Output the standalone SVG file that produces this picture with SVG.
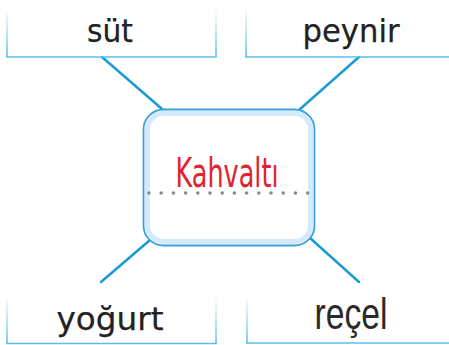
<svg xmlns="http://www.w3.org/2000/svg" width="449" height="345" viewBox="0 0 449 345">
<defs>
<linearGradient id="fade" x1="0" y1="0" x2="0" y2="1">
<stop offset="0" stop-color="#5bbfe9" stop-opacity="0"/>
<stop offset="1" stop-color="#5bbfe9" stop-opacity="1"/>
</linearGradient>
<style>
.base{stroke:#5bbfe9;stroke-width:1.6;fill:none}
.side{fill:url(#fade)}
.conn{stroke:#1a9ad6;stroke-width:2.5;fill:none;stroke-linecap:round}
.word{font-family:"DejaVu Sans","Open Sans",sans-serif;font-size:32px;fill:#222;stroke:#222;stroke-width:0.25;text-anchor:middle}
.narrow{font-family:"Liberation Sans Narrow","Liberation Sans",sans-serif;font-size:44px;fill:#2a2a2a;text-anchor:middle}
</style>
</defs>
<rect width="449" height="345" fill="#fff"/>
<g id="connectors">
<line class="conn" x1="102" y1="57" x2="162" y2="109"/>
<line class="conn" x1="359" y1="57" x2="299" y2="110"/>
<line class="conn" x1="150" y1="240" x2="101" y2="282"/>
<line class="conn" x1="310" y1="238" x2="359" y2="282"/>
</g>
<g id="sut">
<rect class="side" x="6.2" y="8" width="1.6" height="49"/>
<rect class="side" x="215.2" y="8" width="1.6" height="49"/>
<line class="base" x1="6.2" y1="57" x2="216.8" y2="57"/>
<text class="word" x="110" y="42" textLength="46" lengthAdjust="spacingAndGlyphs">süt</text>
</g>
<g id="peynir">
<rect class="side" x="245.2" y="8" width="1.6" height="49"/>
<line class="base" x1="245.2" y1="57" x2="449" y2="57"/>
<text class="word" x="351" y="42" textLength="97" lengthAdjust="spacingAndGlyphs">peynir</text>
</g>
<g id="yogurt">
<rect class="side" x="6.2" y="296" width="1.6" height="48"/>
<rect class="side" x="215.2" y="296" width="1.6" height="48"/>
<line class="base" x1="6.2" y1="343.5" x2="216.8" y2="343.5"/>
<text class="word" x="110" y="330" textLength="107" lengthAdjust="spacingAndGlyphs">yoğurt</text>
</g>
<g id="recel">
<rect class="side" x="246.2" y="296" width="1.6" height="48"/>
<line class="base" x1="246.2" y1="343" x2="449" y2="343"/>
<text class="narrow" x="351" y="329" textLength="73" lengthAdjust="spacingAndGlyphs">reçel</text>
</g>
<g id="kahvalti">
<rect x="143.5" y="109.5" width="171" height="136" rx="20" fill="#fff" stroke="#3da2dc" stroke-width="1.8"/>
<rect x="147.5" y="113.5" width="163" height="128" rx="16" fill="none" stroke="#d3eafa" stroke-width="5"/>
<line x1="149" y1="193" x2="308" y2="193" stroke="#8a8a8a" stroke-width="3.6" stroke-linecap="round" stroke-dasharray="0 12.2"/>
<text x="227" y="187" font-family="DejaVu Sans, sans-serif" font-size="41" fill="#e0242b" text-anchor="middle" textLength="103" lengthAdjust="spacingAndGlyphs">Kahvaltı</text>
</g>
</svg>
